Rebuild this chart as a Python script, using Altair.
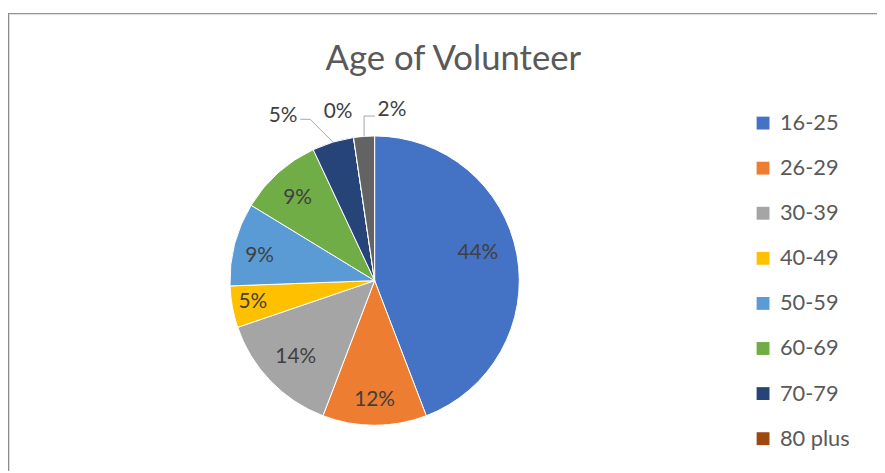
import math
import altair as alt
import pandas as pd

# ---- data ----
categories = ["16-25", "26-29", "30-39", "40-49", "50-59", "60-69", "70-79", "80 plus", "Not given"]
counts = [19, 5, 6, 2, 4, 4, 2, 0, 1]
colors = ["#4472C4", "#ED7D31", "#A5A5A5", "#FFC000", "#5B9BD5", "#70AD47", "#264478", "#9E480E", "#636363"]
legend_values = categories[:8]
title_text = "Age of Volunteer"

# ---- layout / style constants ----
W, H = 877, 465
CX, CY, R = 370, 273, 146
FONT = "Lato"
total = sum(counts)

df = pd.DataFrame({"cat": categories, "n": counts, "idx": list(range(len(categories)))})

theta_scale = alt.Scale(domain=[0, total], range=[0, 2 * math.pi])

base = (
    alt.Chart(df)
    .transform_window(cum="sum(n)", sort=[alt.SortField("idx")], frame=[None, 0])
    .transform_calculate(start="datum.cum - datum.n", mid="datum.cum - datum.n / 2",
                         pct=f"datum.n / {total}")
)

pie = base.mark_arc(radius=R, stroke="white", strokeWidth=1).encode(
    theta=alt.Theta("start:Q", scale=theta_scale),
    theta2="cum:Q",
    color=alt.Color(
        "cat:N",
        scale=alt.Scale(domain=categories, range=colors),
        legend=alt.Legend(
            title=None, orient="none", legendX=751, legendY=103,
            values=legend_values, symbolType="square", symbolSize=169,
            symbolStrokeWidth=0, symbolOpacity=1, labelFontSize=22, labelFont=FONT,
            labelColor="#595959", rowPadding=23.5, labelOffset=6, padding=0,
        ),
    ),
    x=alt.value(CX),
    y=alt.value(CY),
)

# label placement (radius, dx, dy) per slice, imitating the spreadsheet's label layout
label_style = {
    "16-25": (110, -4, -8),
    "26-29": (119, 0, 2),
    "30-39": (112, 1, -1),
    "40-49": (126, 1, -1),
    "50-59": (118, -2, 5),
    "60-69": (112, -3, 0),
    "70-79": (185, -39, 11),
    "80 plus": (185, -10, 13),
    "Not given": (185, 31, 12),
}

label_layers = []
for cat, (rad, dx, dy) in label_style.items():
    label_layers.append(
        base.transform_filter(alt.datum.cat == cat)
        .mark_text(radius=rad, dx=dx, dy=dy, fontSize=21, font=FONT, color="#404040")
        .encode(
            theta=alt.Theta("mid:Q", scale=theta_scale),
            text=alt.Text("pct:Q", format=".0%"),
            x=alt.value(CX),
            y=alt.value(CY),
        )
    )

# leader lines for the outside labels: slice edge -> elbow -> end (offsets are style)
leader_offsets = {
    "70-79": [(0, 0), (-23, -23), (-33, -23)],
    "Not given": [(0, 0), (0, -20.5), (11, -20.5)],
}
rows = []
cum = 0
for cat, n in zip(categories, counts):
    mid = cum + n / 2
    cum += n
    if cat in leader_offsets:
        a = mid / total * 2 * math.pi
        px = CX + R * math.sin(a)
        py = CY - R * math.cos(a)
        for k, (ox, oy) in enumerate(leader_offsets[cat]):
            rows.append({"cat": cat, "k": k, "x": px + ox, "y": py + oy})
leaders = alt.Chart(pd.DataFrame(rows)).mark_line(color="#A6A6A6", strokeWidth=1).encode(
    x=alt.X("x:Q", scale=None),
    y=alt.Y("y:Q", scale=None),
    detail="cat:N",
    order="k:Q",
)

# chart frame (top and left edges visible in the reference)
one = pd.DataFrame({"a": [0]})
frame = [
    alt.Chart(one).mark_rule(color="#8a8a8a", strokeWidth=1).encode(x=alt.value(0), x2=alt.value(W), y=alt.value(3.5)),
    alt.Chart(one).mark_rule(color="#dcdcdc", strokeWidth=1).encode(x=alt.value(1), x2=alt.value(W), y=alt.value(4.5)),
    alt.Chart(one).mark_rule(color="#8a8a8a", strokeWidth=1).encode(x=alt.value(0.5), y=alt.value(3), y2=alt.value(H)),
    alt.Chart(one).mark_rule(color="#dcdcdc", strokeWidth=1).encode(x=alt.value(1.5), y=alt.value(4), y2=alt.value(H)),
]

chart = alt.layer(*frame, pie, leaders, *label_layers).properties(
    width=W,
    height=H,
    autosize="none",
    padding=0,
    title=alt.TitleParams(title_text, anchor="middle", fontSize=35, font=FONT,
                          color="#595959", fontWeight="normal", dx=11, dy=71),
).configure_view(stroke="transparent")

chart.save("out.html", embed_options={"renderer": "svg", "actions": False})
